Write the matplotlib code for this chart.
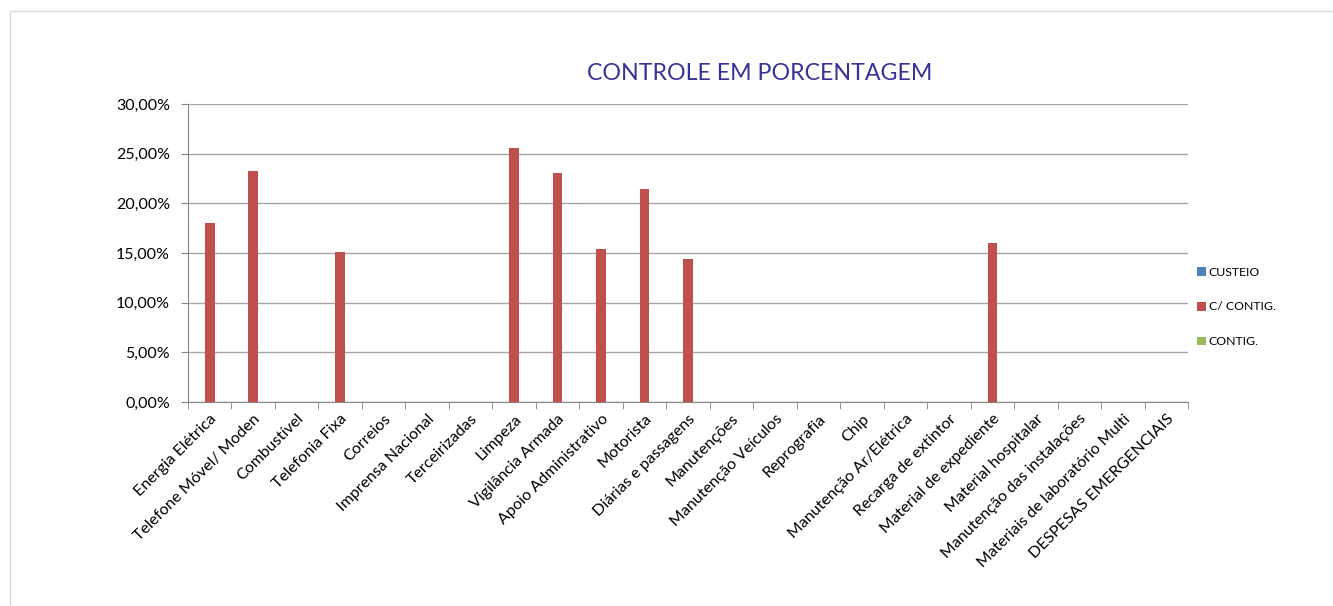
import numpy as np
import matplotlib
matplotlib.use("Agg")
import matplotlib.pyplot as plt
from matplotlib.patches import Rectangle
from matplotlib.ticker import FuncFormatter, FixedLocator

plt.rcParams['font.family'] = ['Lato', 'DejaVu Sans']

categorias = ["Energia Elétrica", "Telefone Móvel/ Moden", "Combustível", "Telefonia Fixa",
              "Correios", "Imprensa Nacional", "Terceirizadas", "Limpeza",
              "Vigilância Armada", "Apoio Administrativo", "Motorista", "Diárias e passagens",
              "Manutenções", "Manutenção Veículos", "Reprografia", "Chip",
              "Manutenção Ar/Elétrica", "Recarga de extintor", "Material de expediente",
              "Material hospitalar", "Manutenção das instalações",
              "Materiais de laboratório Multi", "DESPESAS EMERGENCIAIS"]
custeio = [0] * 23
c_contig = [18.05, 23.24, 0, 15.13, 0, 0, 0, 25.57, 23.08, 15.36, 21.41, 14.39,
            0, 0, 0, 0, 0, 0, 15.98, 0, 0, 0, 0]
contig = [0] * 23
series = ["CUSTEIO", "C/ CONTIG.", "CONTIG."]
cores = ["#4f81bd", "#c0504d", "#9bbb59"]

fig = plt.figure(figsize=(13.33, 6.06), dpi=100)
fig.patches.append(Rectangle((10 / 1333, -0.01), 1.0, 1 - 11 / 606 + 0.01, transform=fig.transFigure,
                             fill=False, edgecolor="#d9d9d9", lw=1))
ax = fig.add_axes([188 / 1333, 1 - 402 / 606, 1000 / 1333, 298 / 606])

x = np.arange(len(categorias))
w = 0.22
for i, (vals, cor, nome) in enumerate(zip([custeio, c_contig, contig], cores, series)):
    ax.bar(x + (i - 1) * w, vals, width=w, color=cor, label=nome, zorder=3)

ax.set_xlim(-0.5, len(categorias) - 0.5)
ax.set_ylim(0, 30)
ax.set_yticks(np.arange(0, 31, 5))
ax.yaxis.set_major_formatter(FuncFormatter(lambda v, p: f"{v:.2f}%".replace(".", ",")))
ax.grid(axis="y", color="#a6a6a6", lw=1, zorder=0)

ax.set_xticks(x)
ax.set_xticklabels(categorias, rotation=45, ha="right", va="top", rotation_mode="anchor")
ax.tick_params(axis="x", which="major", length=0, labelsize=11.5, pad=7)
ax.xaxis.set_minor_locator(FixedLocator(np.arange(-0.5, len(categorias), 1)))
ax.tick_params(axis="x", which="minor", length=5, color="#868686", direction="out")
ax.tick_params(axis="y", length=5, color="#868686", labelsize=11.5, pad=8)

for s in ["top", "right"]:
    ax.spines[s].set_visible(False)
for s in ["left", "bottom"]:
    ax.spines[s].set_color("#868686")

fig.text(760 / 1333, 1 - 74 / 606, "CONTROLE EM PORCENTAGEM", ha="center", va="center",
         fontsize=16.7, color="#333399")

leg = ax.legend(loc="center left", bbox_to_anchor=(0.998, 0.319), frameon=False, fontsize=8.8,
                handlelength=0.75, handleheight=0.75, handletextpad=0.2, labelspacing=1.95)

fig.savefig("out.png", dpi=100)
